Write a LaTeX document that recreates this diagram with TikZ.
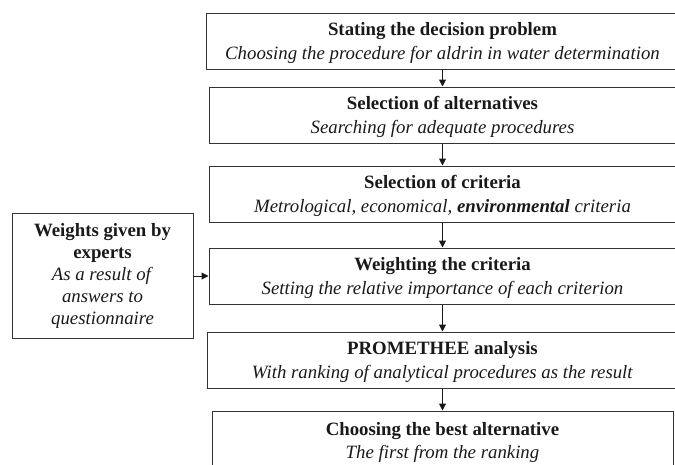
\documentclass[tikz,border=0pt]{standalone}
\usepackage{fontspec}
\setmainfont{Liberation Serif}
\usetikzlibrary{arrows.meta}
\newcommand{\tstrut}{\rule{0pt}{17pt}}
\begin{document}
\begin{tikzpicture}[x=1pt,y=-1pt,
  stepbox/.style={draw=black!80, line width=1pt, inner sep=0pt, align=center,
    font=\fontsize{18.8}{24}\selectfont, text=black!90},
  conn/.style={draw=black!90, line width=1pt, -{Triangle[length=7pt,width=7pt]}}]
\useasboundingbox (0,0) rectangle (675,464);
\clip (0,0) rectangle (675,464);
\node[stepbox, minimum width=473, minimum height=56] (b1) at (442.5,41)
  {\tstrut\textbf{Stating the decision problem}\\\textit{Choosing the procedure for aldrin in water determination}};
\node[stepbox, minimum width=467, minimum height=56] (b2) at (442.5,115)
  {\tstrut\textbf{Selection of alternatives}\\\textit{Searching for adequate procedures}};
\node[stepbox, minimum width=467, minimum height=56] (b3) at (442.5,194)
  {\tstrut\textbf{Selection of criteria}\\\textit{Metrological, economical, \textbf{environmental} criteria}};
\node[stepbox, minimum width=467, minimum height=56] (b4) at (442.5,276)
  {\tstrut\textbf{Weighting the criteria}\\\textit{Setting the relative importance of each criterion}};
\node[stepbox, minimum width=471, minimum height=56] (b5) at (442.5,360)
  {\tstrut\textbf{PROMETHEE analysis}\\\textit{With ranking of analytical procedures as the result}};
\node[stepbox, minimum width=461, minimum height=62, font=\fontsize{18.8}{23}\selectfont] (b6) at (442.5,442)
  {\textbf{Choosing the best alternative}\\\textit{The first from the ranking}};
\node[stepbox, minimum width=181, minimum height=125, font=\fontsize{18.8}{22}\selectfont] (w) at (102.5,275.5)
  {\textbf{Weights given by}\\\textbf{experts}\\\textit{As a result of}\\\textit{answers to}\\\textit{questionnaire}};
\draw[conn] (b1) -- (b2);
\draw[conn] (b2) -- (b3);
\draw[conn] (b3) -- (b4);
\draw[conn] (b4) -- (b5);
\draw[conn] (b5) -- (b6);
\draw[conn] (w.east |- b4.west) -- (b4.west);
\end{tikzpicture}
\end{document}
